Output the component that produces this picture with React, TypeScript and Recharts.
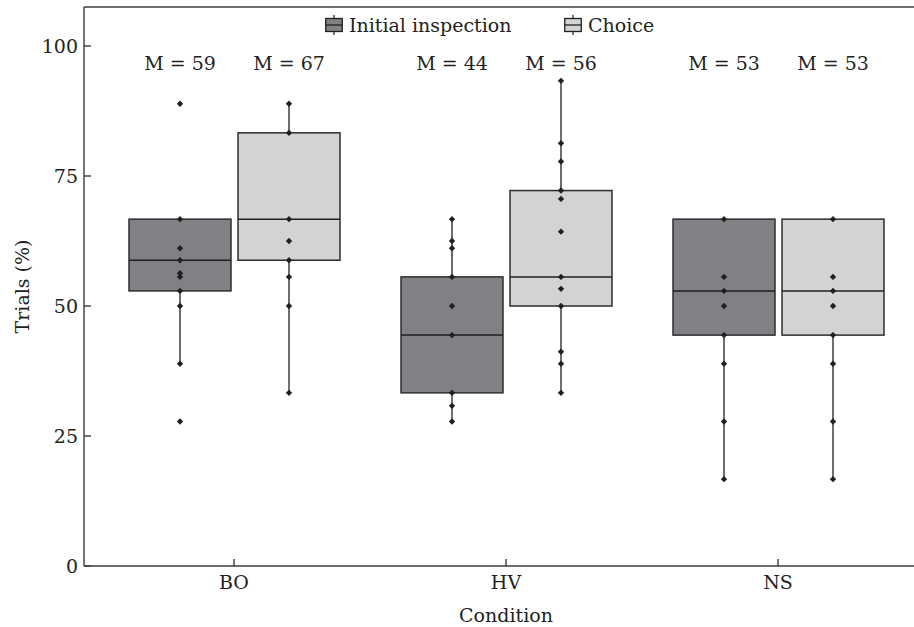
import { BarChart, Bar, XAxis, YAxis, ReferenceLine } from "recharts";

const CONDITIONS = ["BO", "HV", "NS"];

// individual trial percentages per condition (dots)
const INITIAL_POINTS = [
  [88.9, 66.7, 61.1, 58.8, 56.3, 55.6, 52.9, 50.0, 38.9, 27.8],
  [66.7, 62.5, 61.1, 55.6, 50.0, 44.4, 33.3, 30.8, 27.8],
  [66.7, 55.6, 52.9, 50.0, 44.4, 38.9, 27.8, 16.7],
];
const CHOICE_POINTS = [
  [88.9, 83.3, 66.7, 62.5, 58.8, 55.6, 50.0, 33.3],
  [93.3, 81.3, 77.8, 72.2, 70.6, 64.3, 55.6, 53.3, 50.0, 41.2, 38.9, 33.3],
  [66.7, 55.6, 52.9, 50.0, 44.4, 38.9, 27.8, 16.7],
];

const INITIAL_Q1 = [52.9, 33.3, 44.4];
const INITIAL_MEDIAN = [58.8, 44.4, 52.9];
const INITIAL_Q3 = [66.7, 55.6, 66.7];
const INITIAL_WHISKER_LOW = [38.9, 27.8, 16.7];
const INITIAL_WHISKER_HIGH = [66.7, 66.7, 66.7];

const CHOICE_Q1 = [58.8, 50.0, 44.4];
const CHOICE_MEDIAN = [66.7, 55.6, 52.9];
const CHOICE_Q3 = [83.3, 72.2, 66.7];
const CHOICE_WHISKER_LOW = [33.3, 33.3, 16.7];
const CHOICE_WHISKER_HIGH = [88.9, 93.3, 66.7];

const INITIAL_M = [59, 44, 53];
const CHOICE_M = [67, 56, 53];

const Y_TICKS = [0, 25, 50, 75, 100];
const Y_MAX = 107.5;
const M_LABEL_AT = 95.4; // baseline of "M = .." labels, in axis units

const INK = "#231f20";
const AXIS = "#3c3c3e";
const DARK_FILL = "#808184";
const LIGHT_FILL = "#d1d3d4";
const FONT = "DejaVu Serif";

const data = CONDITIONS.map((c, i) => ({
  condition: c,
  initial: [INITIAL_Q1[i], INITIAL_Q3[i]],
  choice: [CHOICE_Q1[i], CHOICE_Q3[i]],
  initialStats: {
    q1: INITIAL_Q1[i],
    median: INITIAL_MEDIAN[i],
    q3: INITIAL_Q3[i],
    low: INITIAL_WHISKER_LOW[i],
    high: INITIAL_WHISKER_HIGH[i],
    points: INITIAL_POINTS[i],
    m: INITIAL_M[i],
  },
  choiceStats: {
    q1: CHOICE_Q1[i],
    median: CHOICE_MEDIAN[i],
    q3: CHOICE_Q3[i],
    low: CHOICE_WHISKER_LOW[i],
    high: CHOICE_WHISKER_HIGH[i],
    points: CHOICE_POINTS[i],
    m: CHOICE_M[i],
  },
}));

function BoxShape(props: any) {
  const { x, y, width, height, payload, statsKey, boxFill } = props;
  const s = payload[statsKey];
  // bar spans q1..q3, so extend the same linear mapping to the other values
  const toY = (v: number) => y + (height * (s.q3 - v)) / (s.q3 - s.q1);
  const cx = x + width / 2;
  return (
    <g>
      <line x1={cx} x2={cx} y1={toY(s.high)} y2={toY(s.low)} stroke={INK} strokeWidth={1.3} />
      <rect x={x} y={y} width={width} height={height} fill={boxFill} stroke="#2e2e30" strokeWidth={1.5} />
      <line x1={x} x2={x + width} y1={toY(s.median)} y2={toY(s.median)} stroke={INK} strokeWidth={1.5} />
      {s.points.map((v: number, k: number) => {
        const py = toY(v);
        return (
          <polygon
            key={k}
            points={`${cx},${py - 3.2} ${cx + 3.2},${py} ${cx},${py + 3.2} ${cx - 3.2},${py}`}
            fill={INK}
          />
        );
      })}
      <text x={cx} y={toY(M_LABEL_AT)} textAnchor="middle" fontFamily={FONT} fontSize={19} fill={INK}>
        {`M = ${s.m}`}
      </text>
    </g>
  );
}

function LegendIcon({ fill }: { fill: string }) {
  return (
    <svg width={18} height={20} style={{ display: "block" }}>
      <line x1={9} x2={9} y1={0} y2={20} stroke={INK} strokeWidth={1.2} />
      <rect x={0.75} y={3.5} width={16.5} height={13} fill={fill} stroke={INK} strokeWidth={1.3} />
      <line x1={0.75} x2={17.25} y1={10} y2={10} stroke={INK} strokeWidth={1.3} />
    </svg>
  );
}

const legendText = { fontFamily: FONT, fontSize: 19, color: INK, lineHeight: "20px" };

export default function App() {
  return (
    <div style={{ position: "absolute", left: 0, top: 0, width: 914, height: 627 }}>
      <BarChart
        width={914}
        height={627}
        data={data}
        margin={{ top: 7, right: 0, bottom: 21, left: 0 }}
        barSize={102}
        barGap={7}
      >
        <XAxis
          dataKey="condition"
          height={40}
          padding={{ left: 14, right: 0 }}
          axisLine={{ stroke: AXIS, strokeWidth: 1.4 }}
          tickLine={{ stroke: AXIS, strokeWidth: 1.4 }}
          tickSize={-7}
          tickMargin={17}
          tick={{ fontFamily: FONT, fontSize: 19, fill: INK }}
          label={(p: any) => {
            const vb = p.viewBox;
            return (
              <text
                x={vb.x + 14 + (vb.width - 14) / 2}
                y={622}
                textAnchor="middle"
                fontFamily={FONT}
                fontSize={19}
                fill={INK}
              >
                Condition
              </text>
            );
          }}
        />
        <YAxis
          width={84}
          domain={[0, Y_MAX]}
          ticks={Y_TICKS}
          allowDataOverflow
          axisLine={{ stroke: AXIS, strokeWidth: 1.4 }}
          tickLine={{ stroke: AXIS, strokeWidth: 1.4 }}
          tickSize={-7}
          tickMargin={13}
          tick={{ fontFamily: FONT, fontSize: 19, fill: INK }}
          label={(p: any) => {
            const vb = p.viewBox;
            const cy = vb.y + vb.height / 2;
            return (
              <text
                x={29}
                y={cy}
                transform={`rotate(-90, 29, ${cy})`}
                textAnchor="middle"
                fontFamily={FONT}
                fontSize={19}
                fill={INK}
              >
                Trials (%)
              </text>
            );
          }}
        />
        <ReferenceLine y={Y_MAX} stroke={AXIS} strokeWidth={1.4} />
        <Bar
          dataKey="initial"
          fill={DARK_FILL}
          isAnimationActive={false}
          shape={(p: any) => <BoxShape {...p} statsKey="initialStats" boxFill={DARK_FILL} />}
        />
        <Bar
          dataKey="choice"
          fill={LIGHT_FILL}
          isAnimationActive={false}
          shape={(p: any) => <BoxShape {...p} statsKey="choiceStats" boxFill={LIGHT_FILL} />}
        />
      </BarChart>
      <div style={{ position: "absolute", left: 325, top: 15, display: "flex", alignItems: "center" }}>
        <LegendIcon fill={DARK_FILL} />
        <span style={{ ...legendText, marginLeft: 6 }}>Initial inspection</span>
      </div>
      <div style={{ position: "absolute", left: 564, top: 15, display: "flex", alignItems: "center" }}>
        <LegendIcon fill={LIGHT_FILL} />
        <span style={{ ...legendText, marginLeft: 6 }}>Choice</span>
      </div>
    </div>
  );
}
